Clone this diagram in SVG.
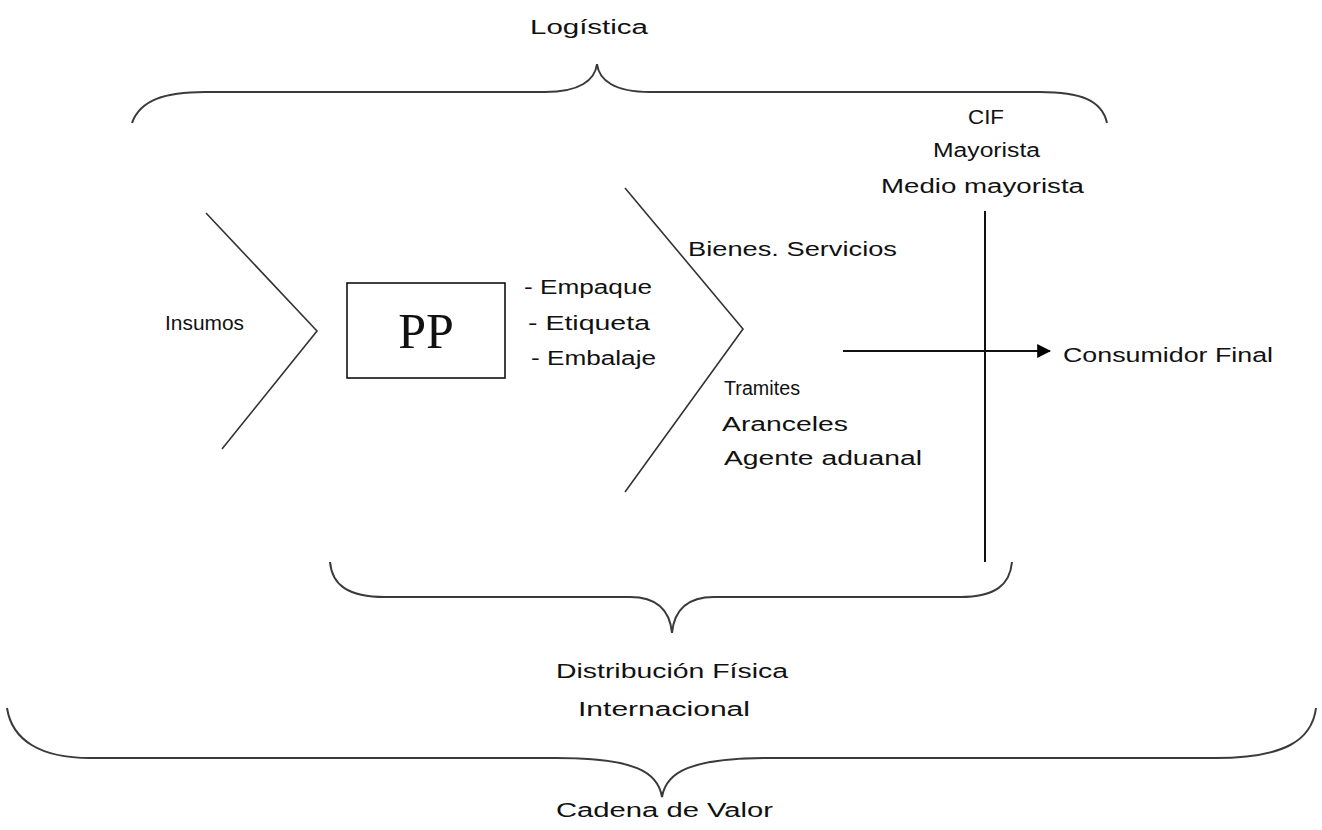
<svg xmlns="http://www.w3.org/2000/svg" width="1322" height="830" viewBox="0 0 1322 830">
<style>
text{font-family:"Liberation Sans",Arial,sans-serif;font-size:20px;fill:#111}
.brace{fill:none;stroke:#3a3a3a;stroke-width:2}
.ln{fill:none;stroke:#333;stroke-width:1.6}
</style>
<defs>
<marker id="ah" viewBox="0 0 10 10" refX="9" refY="5" markerWidth="7" markerHeight="7" orient="auto" markerUnits="userSpaceOnUse"><path d="M0,0 L10,5 L0,10 z" fill="#000"/></marker>
<marker id="ah2" viewBox="0 0 12 12" refX="11" refY="6" markerWidth="14" markerHeight="14" orient="auto" markerUnits="userSpaceOnUse"><path d="M0,0 L12,6 L0,12 z" fill="#000"/></marker>
</defs>
<rect width="1322" height="830" fill="#fff"/>
<g id="braces">
<path class="brace" d="M132,123 C140,100 165,92 205,92 L545,92 C580,92 595,80 597,64 C599,80 614,92 650,92 L1040,92 C1080,92 1102,100 1107,123"/>
<path class="brace" d="M330,562 C332,585 348,597 385,597 L630,597 C658,597 670,612 672,633 C674,612 686,597 714,597 L960,597 C995,597 1010,585 1012,562"/>
<path class="brace" d="M7,708 C12,740 40,758 90,758 L556,758 C635,758 658,772 662,797 C666,772 690,758 770,758 L1215,758 C1285,758 1312,740 1316,708"/>
</g>
<g id="connectors">
<polyline class="ln" points="206,213 317,331 222,449"/>
<polyline class="ln" points="625,188 743,329 625,492"/>
<line x1="985" y1="211" x2="985" y2="562" stroke="#111" stroke-width="2"/>
<line x1="843" y1="351" x2="1050" y2="351" stroke="#111" stroke-width="2" marker-end="url(#ah2)"/>
</g>
<g id="logistica"><text x="530" y="34" textLength="118" lengthAdjust="spacingAndGlyphs">Logística</text></g>
<g id="insumos"><text x="165" y="330" textLength="79" lengthAdjust="spacingAndGlyphs">Insumos</text></g>
<g id="pp">
<rect x="347" y="283" width="158" height="95" fill="none" stroke="#111" stroke-width="1.6"/>
<text x="426" y="348" text-anchor="middle" style="font-family:'Liberation Serif',serif;font-size:50px">PP</text>
</g>
<g id="empaque">
<text x="524" y="294" textLength="128" lengthAdjust="spacingAndGlyphs">- Empaque</text>
<text x="528" y="330" textLength="122" lengthAdjust="spacingAndGlyphs">- Etiqueta</text>
<text x="531" y="365" textLength="125" lengthAdjust="spacingAndGlyphs">- Embalaje</text>
</g>
<g id="bienes"><text x="688" y="256" textLength="209" lengthAdjust="spacingAndGlyphs">Bienes. Servicios</text></g>
<g id="tramites">
<text x="724" y="395" textLength="76" lengthAdjust="spacingAndGlyphs">Tramites</text>
<text x="722" y="431" textLength="126" lengthAdjust="spacingAndGlyphs">Aranceles</text>
<text x="724" y="465" textLength="198" lengthAdjust="spacingAndGlyphs">Agente aduanal</text>
</g>
<g id="cif">
<text x="968" y="124" textLength="36" lengthAdjust="spacingAndGlyphs">CIF</text>
<text x="933" y="157" textLength="107" lengthAdjust="spacingAndGlyphs">Mayorista</text>
<text x="881" y="193" textLength="203" lengthAdjust="spacingAndGlyphs">Medio mayorista</text>
</g>
<g id="consumidor"><text x="1063" y="362" textLength="210" lengthAdjust="spacingAndGlyphs">Consumidor Final</text></g>
<g id="distribucion">
<text x="556" y="678" textLength="232" lengthAdjust="spacingAndGlyphs">Distribución Física</text>
<text x="578" y="716" textLength="172" lengthAdjust="spacingAndGlyphs">Internacional</text>
</g>
<g id="cadena"><text x="556" y="817" textLength="217" lengthAdjust="spacingAndGlyphs">Cadena de Valor</text></g>
</svg>
